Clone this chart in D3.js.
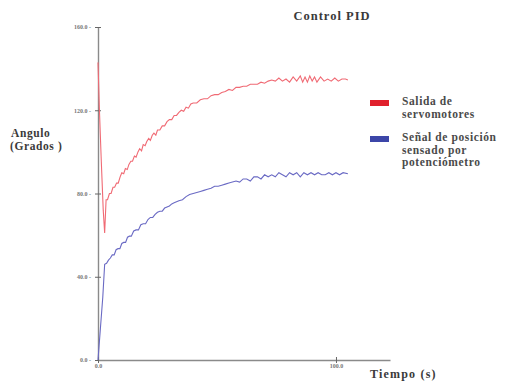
<!DOCTYPE html>
<html>
<head>
<meta charset="utf-8">
<script src="https://cdn.jsdelivr.net/npm/d3@7"></script>
<style>
  body { margin: 0; background: #fff; }
</style>
</head>
<body>
<div id="chart"></div>
<script>
// servo output (red)
const redT = [0, 0.6, 1.4, 2.2, 2.8, 3.4, 4.0, 4.8, 5.5, 6.3, 7.0, 7.8, 8.5, 9.3, 10.0, 10.8, 11.5, 12.3, 13.0, 13.8,
  14.5, 15.3, 16.0, 16.8, 17.5, 18.3, 19.0, 19.8, 20.5, 21.3, 22.0, 22.8, 23.5, 24.3, 25.0, 26.0, 27.0, 28.0, 29.0, 30.0,
  31.0, 32.0, 33.0, 34.0, 35.0, 36.0, 37.0, 38.0, 39.0, 40.0, 41.5, 43.0, 44.5, 46.0, 47.5, 49.0, 50.5, 52.0, 53.5, 55.0,
  56.5, 58.0, 59.5, 61.0, 62.5, 64.0, 65.5, 67.0, 68.5, 70.0, 71.5, 73.0, 74.5, 76.0, 77.5, 79.0, 80.5, 82.0, 83.5, 85.0,
  86.0, 87.0, 88.0, 89.0, 90.0, 91.0, 92.0, 93.5, 95.0, 96.5, 98.0, 99.5, 101.0, 102.5, 104.0, 105.0];
const redV = [143, 120, 95, 72, 61, 77, 77, 80, 80, 83, 83, 85, 85, 88, 90, 89.5, 92, 91.5, 94, 95.5,
  95.5, 98, 97.5, 100, 101.5, 100.5, 103.5, 103, 105, 106.5, 105.5, 108, 109, 108, 110.5, 110.5, 112.5, 112.5, 114.5, 115.5,
  115.5, 117.5, 117.5, 119, 120, 119.5, 121.5, 121, 123, 123.5, 123.5, 125, 125.5, 125.5, 127, 127.5, 127.5, 128.5, 129, 130,
  129.5, 131, 131, 131.5, 131.5, 132.5, 132.5, 132.5, 133.5, 133, 134, 134.5, 134, 135.5, 134, 135, 133.5, 136, 134, 136.5,
  133.5, 136, 133.5, 136.5, 134, 136, 133.5, 136, 134, 135, 134, 135.5, 134, 135, 135, 134.5];

// sensed position (blue)
const blueT = [0, 1.0, 2.0, 2.8, 3.6, 4.4, 5.2, 6.0, 6.8, 7.6, 8.4, 9.2, 10.0, 10.8, 11.6, 12.4, 13.2, 14.0, 15.0, 16.0,
  17.0, 18.0, 19.0, 20.0, 21.0, 22.0, 23.0, 24.0, 25.0, 26.0, 27.0, 28.0, 29.0, 30.0, 31.0, 32.0, 33.0, 34.0, 35.5, 37.0,
  38.5, 40.0, 41.5, 43.0, 44.5, 46.0, 47.5, 49.0, 50.5, 52.0, 53.5, 55.0, 56.5, 58.0, 59.5, 61.0, 62.5, 64.0, 65.5, 67.0,
  68.5, 70.0, 71.5, 73.0, 74.5, 76.0, 77.5, 79.0, 80.5, 82.0, 83.5, 85.0, 86.5, 88.0, 89.5, 91.0, 92.5, 94.0, 95.5, 97.0,
  98.5, 100.0, 101.5, 103.0, 105.0];
const blueV = [0, 15, 30, 46, 46.5, 48, 49, 50.5, 50.5, 53, 53.5, 53.5, 56, 56.5, 56.5, 59, 59.5, 59.5, 62, 62.5,
  62.5, 65, 65.5, 65.5, 67.5, 68.5, 68.5, 70, 71, 71.5, 71.5, 73, 73.5, 74, 75, 75.5, 76, 76.5, 77, 78.5,
  79.5, 80, 80.5, 81, 81.5, 82, 82.5, 83.5, 83.5, 84, 84.5, 85, 85.5, 86, 85.5, 87, 87, 86, 88, 88,
  87, 89, 88, 89, 88, 90, 89, 88, 90, 89, 90, 88, 90, 89, 90, 89, 90, 89, 89, 90,
  89, 90, 89, 90, 89.5];

const yTicks = [0, 40, 80, 120, 160];
const xTicks = [0, 100];
const legendItems = [
  { color: "#e0202c", lines: ["Salida de", "servomotores"] },
  { color: "#3c46a8", lines: ["Señal de posición", "sensado por", "potenciómetro"] }
];

const serif = "'Liberation Serif', 'DejaVu Serif', serif";
const width = 532, height = 384;
const svg = d3.select("#chart").append("svg")
  .attr("width", width).attr("height", height);

const x = d3.scaleLinear().domain([0, 122.7]).range([98, 390]);
const y = d3.scaleLinear().domain([0, 160]).range([360, 27]);

// y axis
const yAxis = d3.axisLeft(y).tickValues(yTicks).tickFormat(d => d3.format(".1f")(d) + "  -")
  .tickSizeInner(3).tickSizeOuter(0).tickPadding(4);
const gy = svg.append("g").attr("transform", "translate(98,0)").call(yAxis);
gy.select(".domain").attr("stroke", "#8a8a8a").attr("stroke-width", 1.4);
gy.selectAll(".tick line").attr("stroke", "#666").attr("x2", 3).attr("x1", -3);
gy.selectAll(".tick text").attr("fill", "#777").attr("font-size", 6).attr("font-weight", "bold")
  .attr("font-family", serif);

// x axis
const xAxis = d3.axisBottom(x).tickValues(xTicks).tickFormat(d => d === 0 ? "0.0" : d3.format("d")(d) + ".0")
  .tickSizeInner(3).tickSizeOuter(0).tickPadding(1);
const gx = svg.append("g").attr("transform", "translate(0,360)").call(xAxis);
gx.select(".domain").attr("stroke", "#8a8a8a").attr("stroke-width", 1.4);
gx.selectAll(".tick line").attr("stroke", "#666").attr("y1", -3);
gx.selectAll(".tick text").attr("fill", "#777").attr("font-size", 6).attr("font-weight", "bold")
  .attr("font-family", serif);

const line = d3.line().x(d => x(d[0])).y(d => y(d[1]));

svg.append("path")
  .datum(redT.map((t, i) => [t, redV[i]]))
  .attr("d", line).attr("fill", "none")
  .attr("stroke", "#f06a74").attr("stroke-width", 1.1);

svg.append("path")
  .datum(blueT.map((t, i) => [t, blueV[i]]))
  .attr("d", line).attr("fill", "none")
  .attr("stroke", "#6a6ac4").attr("stroke-width", 1.1);

function label(tx, ty, s, opts = {}) {
  return svg.append("text").attr("x", tx).attr("y", ty)
    .attr("font-family", serif).attr("font-size", opts.size || 11)
    .attr("font-weight", "bold").attr("letter-spacing", opts.ls || 0.6)
    .attr("text-anchor", opts.anchor || "start")
    .attr("fill", opts.fill || "#3a3a3a").text(s);
}

// title and axis labels
label(332, 20, "Control PID", { anchor: "middle", size: 12.5, ls: 1 });
label(11, 137, "Angulo", { size: 11.5 });
label(10, 150, "(Grados )", { size: 11.5 });
label(370, 378, "Tiempo (s)", { size: 12, ls: 1.2 });

// legend
const legTop = [106, 142];
legendItems.forEach((item, i) => {
  const ly = legTop[i];
  svg.append("rect").attr("x", 370).attr("y", ly - 6).attr("width", 19).attr("height", 6).attr("fill", item.color);
  item.lines.forEach((s, j) => {
    label(402, ly - 1 + j * 12.5, s, { size: 11.5, ls: 0.6, fill: "#4a4a4a" });
  });
});
</script>
</body>
</html>
